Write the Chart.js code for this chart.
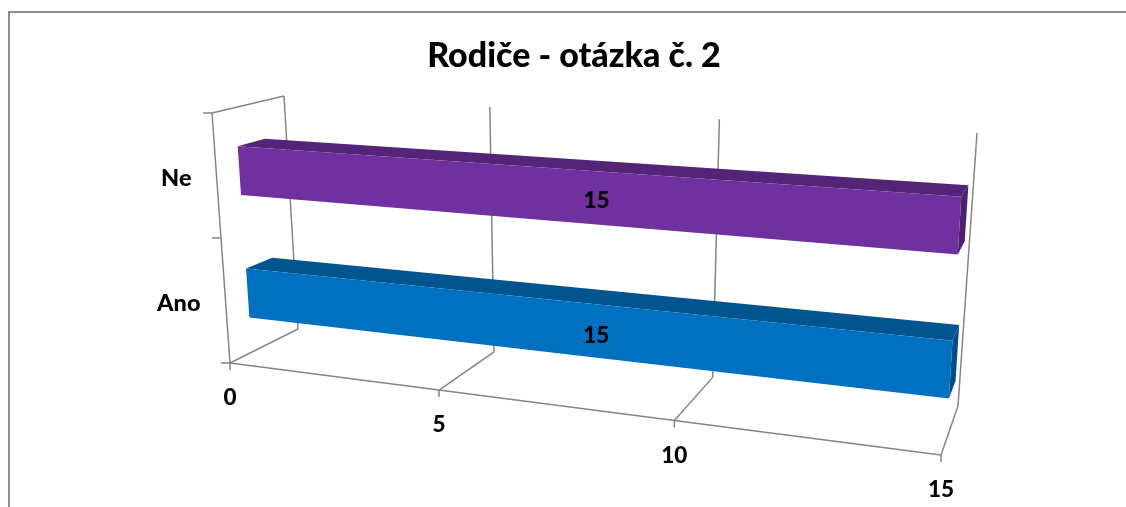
<!DOCTYPE html>
<html><head><meta charset="utf-8">
<style>html,body{margin:0;padding:0;background:#fff}canvas{display:block}</style>
<script src="https://cdn.jsdelivr.net/npm/chart.js@4/dist/chart.umd.min.js"></script>
</head><body><canvas id="c" width="1126" height="507"></canvas>
<script>
const categories = ['Ne', 'Ano'];
const seriesValues = [15, 15];
const xTickValues = [0, 5, 10, 15];
const frontColors = ['#7030A0', '#0070C0'];
const topColors = ['#542478', '#005490'];
const sideColors = ['#4D2170', '#004E86'];
const titleText = 'Rodiče - otázka č. 2';
const gridColor = '#858585';
const family = 'Lato, Carlito, sans-serif';
const numberFont = '900 22.5px ' + family;
const categoryFont = '900 23.5px ' + family;

// box corners in the picture: [floor/top] x [u=0/u=1] x [front/back]
const box = {
  f00:[230,363], f10:[941,455], f01:[212,113], f11:[958,160],
  b00:[298,329], b10:[958,406], b01:[284,96],  b11:[977,133]
};
const perspFront = 0.833, perspBack = 0.845, depthFront = 0.32, depthBack = 0.70;
const warp = (u,a) => a*u/(1+(a-1)*u);
const mix = (a,b,k) => [a[0]+(b[0]-a[0])*k, a[1]+(b[1]-a[1])*k];
function project(u,t,d){
  const wf = warp(u,perspFront), wb = warp(u,perspBack);
  const front = mix(mix(box.f00,box.f10,wf), mix(box.f01,box.f11,wf), t);
  const back  = mix(mix(box.b00,box.b10,wb), mix(box.b01,box.b11,wb), t);
  return mix(front,back,d);
}
function area(chart){
  const a = chart.chartArea;
  return { u:x=>(x-a.left)/(a.right-a.left), t:y=>(a.bottom-y)/(a.bottom-a.top) };
}
function poly(ctx,pts,fill){
  ctx.beginPath();
  pts.forEach((p,i)=> i?ctx.lineTo(p[0],p[1]):ctx.moveTo(p[0],p[1]));
  ctx.closePath(); ctx.fillStyle=fill; ctx.fill();
}
function line(ctx,a,b){ctx.beginPath();ctx.moveTo(a[0],a[1]);ctx.lineTo(b[0],b[1]);ctx.stroke();}

class Bar3D extends Chart.BarController {
  draw(){
    const chart=this.chart, ctx=chart.ctx, m=area(chart);
    this.getMeta().data.forEach((el,i)=>{
      const u0=m.u(el.base), u1=m.u(el.x);
      const t1=m.t(el.y-el.height/2)-0.008, t0=m.t(el.y+el.height/2)-0.008;
      const dF=depthFront, dB=depthBack;
      poly(ctx,[project(u0,t1,dF),project(u1,t1,dF),project(u1,t1,dB),project(u0,t1,dB)],topColors[i]);
      poly(ctx,[project(u1,t1,dF),project(u1,t1,dB),project(u1,t0,dB),project(u1,t0,dF)],sideColors[i]);
      poly(ctx,[project(u0,t1,dF),project(u1,t1,dF),project(u1,t0,dF),project(u0,t0,dF)],frontColors[i]);
    });
  }
}
Bar3D.id='bar3d';
Bar3D.defaults=Chart.BarController.defaults;
Chart.register(Bar3D);

const axes3d = {
  id:'axes3d',
  beforeDatasetsDraw(chart){
    const ctx=chart.ctx, x=chart.scales.x, m=area(chart);
    ctx.save();
    ctx.strokeStyle='#8E8E8E'; ctx.lineWidth=2;
    ctx.beginPath();ctx.moveTo(9,507);ctx.lineTo(9,12);ctx.lineTo(1126,12);ctx.stroke();
    ctx.strokeStyle=gridColor; ctx.lineWidth=1.5;
    line(ctx,project(0,0,0),project(0,1,0));
    line(ctx,project(0,1,0),project(0,1,1));
    line(ctx,project(0,0,0),project(1,0,0));
    xTickValues.forEach(v=>{
      const u=m.u(x.getPixelForValue(v));
      const f=project(u,0,0);
      line(ctx,f,project(u,0,1));
      line(ctx,project(u,0,1),project(u,1,1));
      line(ctx,f,[f[0],f[1]+7]);
    });
    [0,0.5,1].forEach(t=>{
      const p=project(0,t,0);
      line(ctx,[p[0]-9,p[1]],p);
    });
    ctx.restore();
  },
  afterDatasetsDraw(chart){
    const ctx=chart.ctx, x=chart.scales.x, y=chart.scales.y, m=area(chart);
    ctx.save();
    ctx.fillStyle='#000'; ctx.textBaseline='middle';
    ctx.font=numberFont; ctx.textAlign='center';
    xTickValues.forEach(v=>{
      const f=project(m.u(x.getPixelForValue(v)),0,0);
      ctx.fillText(String(v),f[0],f[1]+35);
    });
    chart.getDatasetMeta(0).data.forEach((el,i)=>{
      const t=m.t(el.y)-0.008;
      const a=project(m.u(el.base),t,depthFront), b=project(m.u(el.x),t,depthFront);
      ctx.fillText(String(seriesValues[i]),(a[0]+b[0])/2-3,(a[1]+b[1])/2+3+i);
    });
    ctx.font=categoryFont; ctx.textAlign='right';
    categories.forEach((c,i)=>{
      const p=project(0,m.t(y.getPixelForValue(i)),0);
      ctx.fillText(c,p[0]-25,p[1]+3);
    });
    ctx.restore();
  }
};

new Chart(document.getElementById('c'),{
  type:'bar3d',
  data:{labels:categories,datasets:[{data:seriesValues,backgroundColor:frontColors,barPercentage:0.4,categoryPercentage:1}]},
  options:{
    indexAxis:'y',responsive:false,animation:false,
    layout:{padding:{left:22,top:36}},
    scales:{
      x:{type:'linear',min:0,max:15,display:false,afterBuildTicks(s){s.ticks=xTickValues.map(v=>({value:v}));}},
      y:{type:'category',display:false}
    },
    plugins:{
      legend:{display:false},tooltip:{enabled:false},
      title:{display:true,text:titleText,color:'#000',padding:0,font:{family,size:34,weight:'900'}}
    }
  },
  plugins:[axes3d]
});
</script></body></html>
